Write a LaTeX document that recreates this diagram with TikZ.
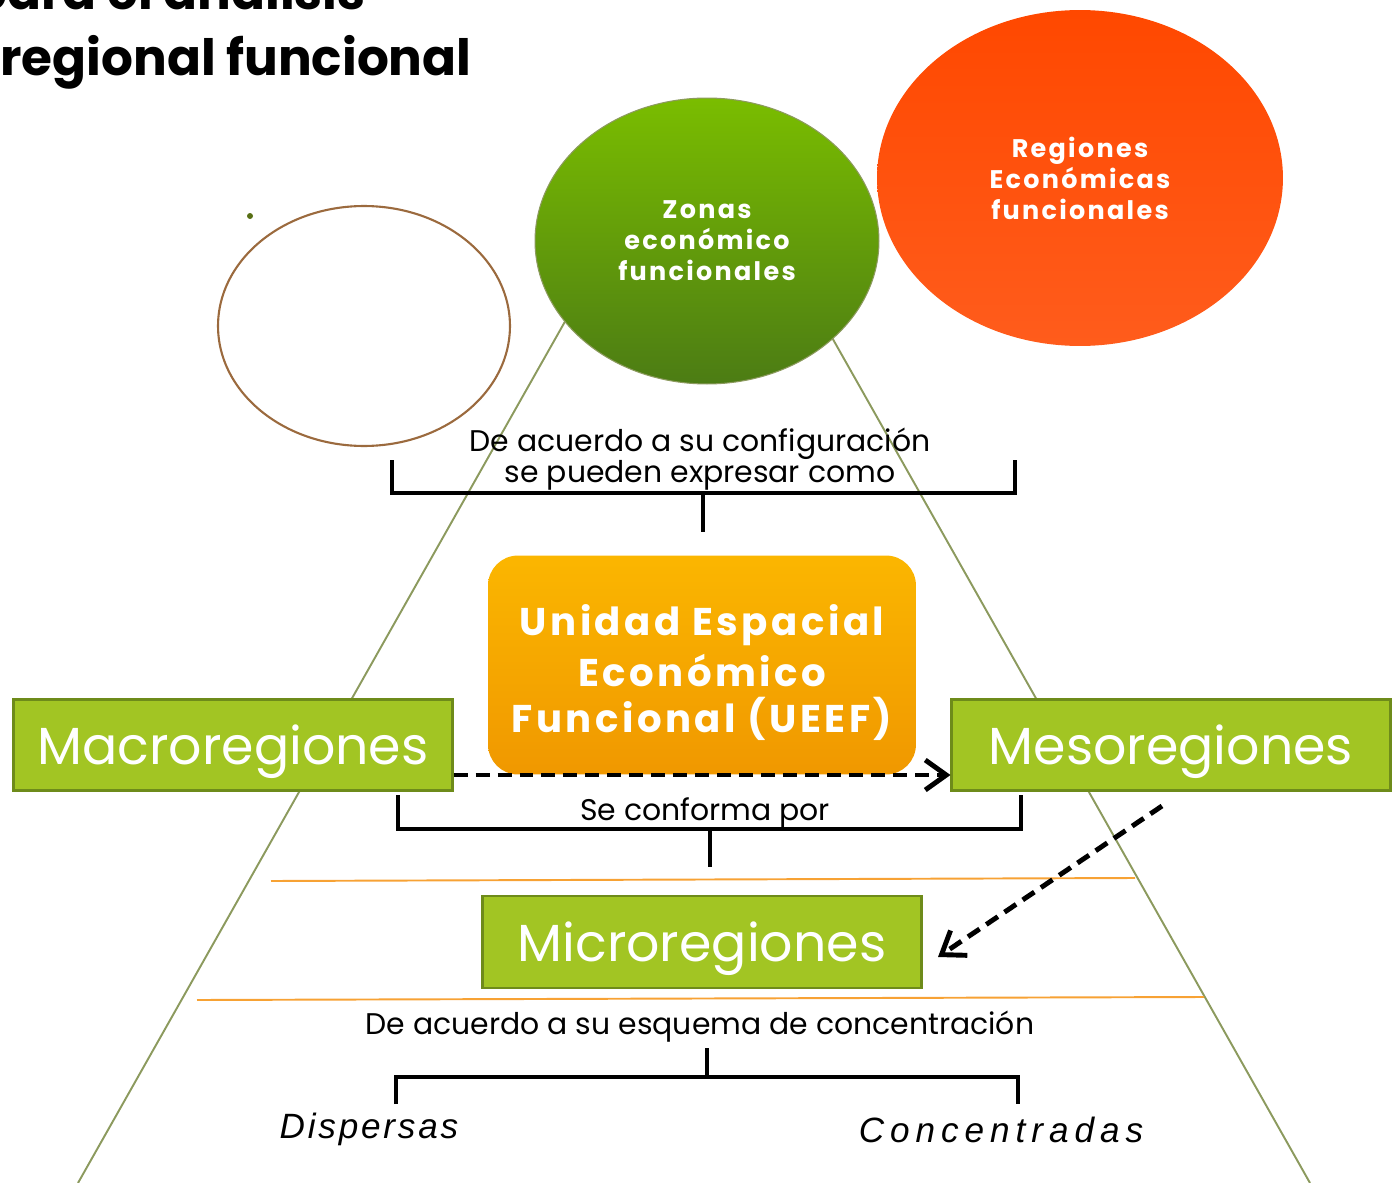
\documentclass[tikz,border=0pt]{standalone}
\usepackage{fontspec}
\setmainfont{Poppins}
\newfontfamily\spacedfont{Poppins}[LetterSpace=9]
\newfontfamily\obliquefont{Liberation Sans}[LetterSpace=8]
\newfontfamily\wideobliquefont{Liberation Sans}[LetterSpace=17]
\usetikzlibrary{arrows.meta}
\usetikzlibrary{positioning}
\usetikzlibrary{shapes.geometric}
\definecolor{mgreen}{HTML}{A2C523}
\definecolor{mgreendark}{HTML}{6E8B1A}
\definecolor{mline}{HTML}{8C9A5E}
\definecolor{mrule}{HTML}{F7A234}
\definecolor{mbrown}{HTML}{9B6A3E}

\tikzset{
  region/.style={draw=mgreendark, line width=1.2pt, fill=mgreen, minimum width=8.78cm,
    minimum height=1.82cm, inner sep=0, text depth=0, text=white, font=\fontsize{29.7}{30}\selectfont},
  bubble/.style={ellipse, inner sep=0, text=white, align=center,
    font=\spacedfont\bfseries\fontsize{14.5}{17.6}\selectfont},
  note/.style={inner sep=0, align=center, font=\fontsize{17}{17.4}\selectfont},
  bracket/.style={line width=2.2pt, black},
  flow/.style={line width=2.8pt, dash pattern=on 0.28cm off 0.16cm,
    -{Straight Barb[length=0.42cm,width=0.6cm]}},
}

\begin{document}
\begin{tikzpicture}[x=0.02cm, y=-0.02cm]
    \useasboundingbox (0, 0) rectangle (1394, 1183);
    \clip (0, 0) rectangle (1394, 1183);

    % title, cut at the top
    \node [inner sep=0, anchor=base east, font=\bfseries\fontsize{28.5}{28.5}\selectfont] (title1) at (366, 10) {para el análisis};
    \node [inner sep=0, anchor=base west, font=\bfseries\fontsize{28.5}{28.5}\selectfont] (title2) at (0, 75) {regional funcional};

    % sides of the pyramid
    \draw [mline, line width=1.1pt] (567, 318) -- (78, 1183);
    \draw [mline, line width=1.1pt] (830, 334) -- (1310, 1183);

    \draw [mrule, line width=1.1pt] (271, 881) -- (1135, 878);
    \draw [mrule, line width=1.1pt] (197, 1000) -- (1204, 997);

    \fill [mgreendark!80!black] (250, 216) circle (3);
    \node [ellipse, draw=mbrown, line width=1.2pt, minimum width=5.84cm, minimum height=4.8cm] (empty) at (364, 326) {};

    \node [bubble, draw=mline, line width=0.6pt, top color={rgb,255:red,122;green,189;blue,0}, bottom color={rgb,255:red,76;green,124;blue,20},
      minimum width=6.88cm, minimum height=5.72cm] (zonas) at (707, 241) {Zonas\\económico\\funcionales};
    \node [bubble, top color={rgb,255:red,255;green,72;blue,0}, bottom color={rgb,255:red,255;green,92;blue,28},
      minimum width=8.12cm, minimum height=6.72cm] (regiones) at (1080, 178) {Regiones\\Económicas\\funcionales};

    \node [note] (config) at (700, 459) {De acuerdo a su configuración\\se pueden expresar como};
    \coordinate (b1l) at (392, 460);
    \coordinate (b1r) at (1015, 460);
    \coordinate (b1m) at (703, 532);
    \draw [bracket] (b1l) -- (b1l |- 0, 493) -- (b1r |- 0, 493) -- (b1r);
    \draw [bracket] (b1m |- 0, 493) -- (b1m);

    \node [rounded corners=0.6cm, top color={rgb,255:red,251;green,182;blue,0}, bottom color={rgb,255:red,240;green,152;blue,0},
      minimum width=8.56cm, minimum height=4.38cm, text=white, align=center,
      font=\spacedfont\bfseries\fontsize{22}{26.5}\selectfont] (ueef) at (702, 665) {\raisebox{-0.15cm}[\height][\depth]{\shortstack{Unidad Espacial\\[0.06cm]Económico\\[0.1cm]Funcional (UEEF)}}};

    \node [region] (macro) at (233, 745) {Macroregiones};
    \node [region] (meso) at (1171, 745) {Mesoregiones};
    \node [region, minimum height=1.84cm] (micro) at (702, 942) {Microregiones};

    \draw [flow] (macro.east |- 0, 775) -- (meso.west |- 0, 775);
    \coordinate (mesotail) at (1162, 806);
    \coordinate (microhead) at (938, 957);
    \draw [flow] (mesotail) -- (microhead);

    \node [note] (conforma) at (705, 813) {Se conforma por};
    \coordinate (b2l) at (398, 795);
    \coordinate (b2r) at (1021, 795);
    \coordinate (b2m) at (710, 867);
    \draw [bracket] (b2l) -- (b2l |- 0, 829) -- (b2r |- 0, 829) -- (b2r);
    \draw [bracket] (b2m |- 0, 829) -- (b2m);

    \node [note] (esquema) at (700, 1027) {De acuerdo a su esquema de concentración};
    \node [inner sep=0, font=\obliquefont\itshape\fontsize{20}{20}\selectfont] (dispersas) at (369, 1129) {Dispersas};
    \node [inner sep=0, font=\wideobliquefont\itshape\fontsize{20}{20}\selectfont] (concentradas) at (1001, 1130) {Concentradas};
    \coordinate (b3l) at (396, 1104);
    \coordinate (b3r) at (1018, 1104);
    \coordinate (b3m) at (707, 1048);
    \draw [bracket] (b3m) -- (b3m |- 0, 1077);
    \draw [bracket] (b3l) -- (b3l |- 0, 1077) -- (b3r |- 0, 1077) -- (b3r);
\end{tikzpicture}
\end{document}
